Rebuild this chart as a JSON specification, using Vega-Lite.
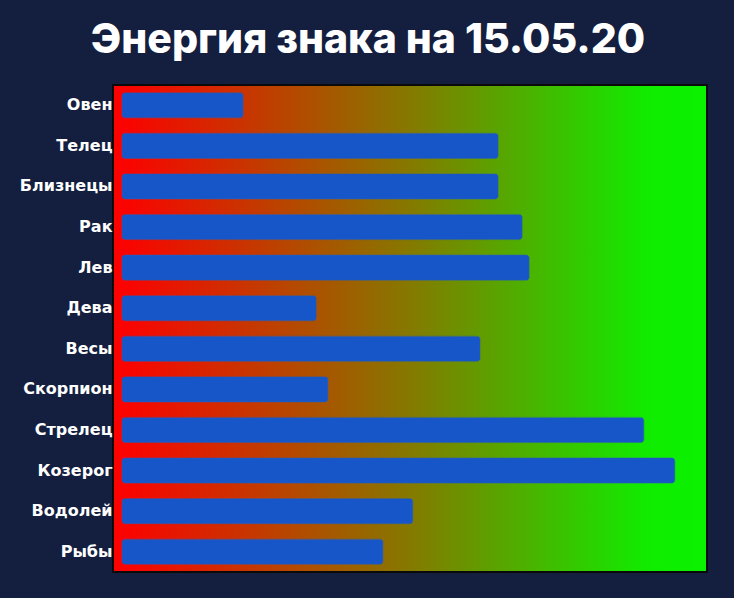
{
  "$schema": "https://vega.github.io/schema/vega-lite/v6.json",
  "width": 594,
  "height": 487,
  "autosize": {"type": "none"},
  "padding": {"left": 113, "top": 85, "right": 27, "bottom": 26},
  "background": "#141e3e",
  "title": {
    "text": "Энергия знака на 15.05.20",
    "color": "#ffffff",
    "font": "Inter",
    "fontSize": 41,
    "fontWeight": 800,
    "letterSpacing": 1.5,
    "anchor": "middle",
    "dx": -42,
    "offset": 23
  },
  "data": {
    "values": [
      {"sign": "Овен", "energy": 20.7},
      {"sign": "Телец", "energy": 64.3},
      {"sign": "Близнецы", "energy": 64.3},
      {"sign": "Рак", "energy": 68.4},
      {"sign": "Лев", "energy": 69.6},
      {"sign": "Дева", "energy": 33.2},
      {"sign": "Весы", "energy": 61.2},
      {"sign": "Скорпион", "energy": 35.2},
      {"sign": "Стрелец", "energy": 89.2},
      {"sign": "Козерог", "energy": 94.5},
      {"sign": "Водолей", "energy": 49.7},
      {"sign": "Рыбы", "energy": 44.6}
    ]
  },
  "mark": {"type": "bar", "color": "#1656c9", "cornerRadius": 3, "stroke": "#2a5fb8", "strokeWidth": 0.5},
  "encoding": {
    "y": {
      "field": "sign",
      "type": "nominal",
      "sort": null,
      "scale": {"paddingInner": 0.38, "paddingOuter": 0.19},
      "axis": {
        "title": null,
        "ticks": false,
        "domain": false,
        "labelColor": "#ffffff",
        "labelFont": "DejaVu Sans",
        "labelFontSize": 16,
        "labelFontWeight": "bold",
        "labelPadding": 1
      }
    },
    "x": {
      "field": "energy",
      "type": "quantitative",
      "scale": {"domain": [-1.54, 100], "nice": false, "zero": false},
      "axis": null
    }
  },
  "config": {
    "view": {
      "stroke": "#0a0a0a",
      "strokeWidth": 2,
      "fill": {
        "gradient": "linear",
        "x1": 0, "y1": 0, "x2": 1, "y2": 0,
        "stops": [
          {"offset": 0, "color": "#ff0000"},
          {"offset": 0.03, "color": "#f80500"},
          {"offset": 0.5, "color": "#857900"},
          {"offset": 0.9, "color": "#10ec00"},
          {"offset": 1, "color": "#0af200"}
        ]
      }
    }
  }
}
